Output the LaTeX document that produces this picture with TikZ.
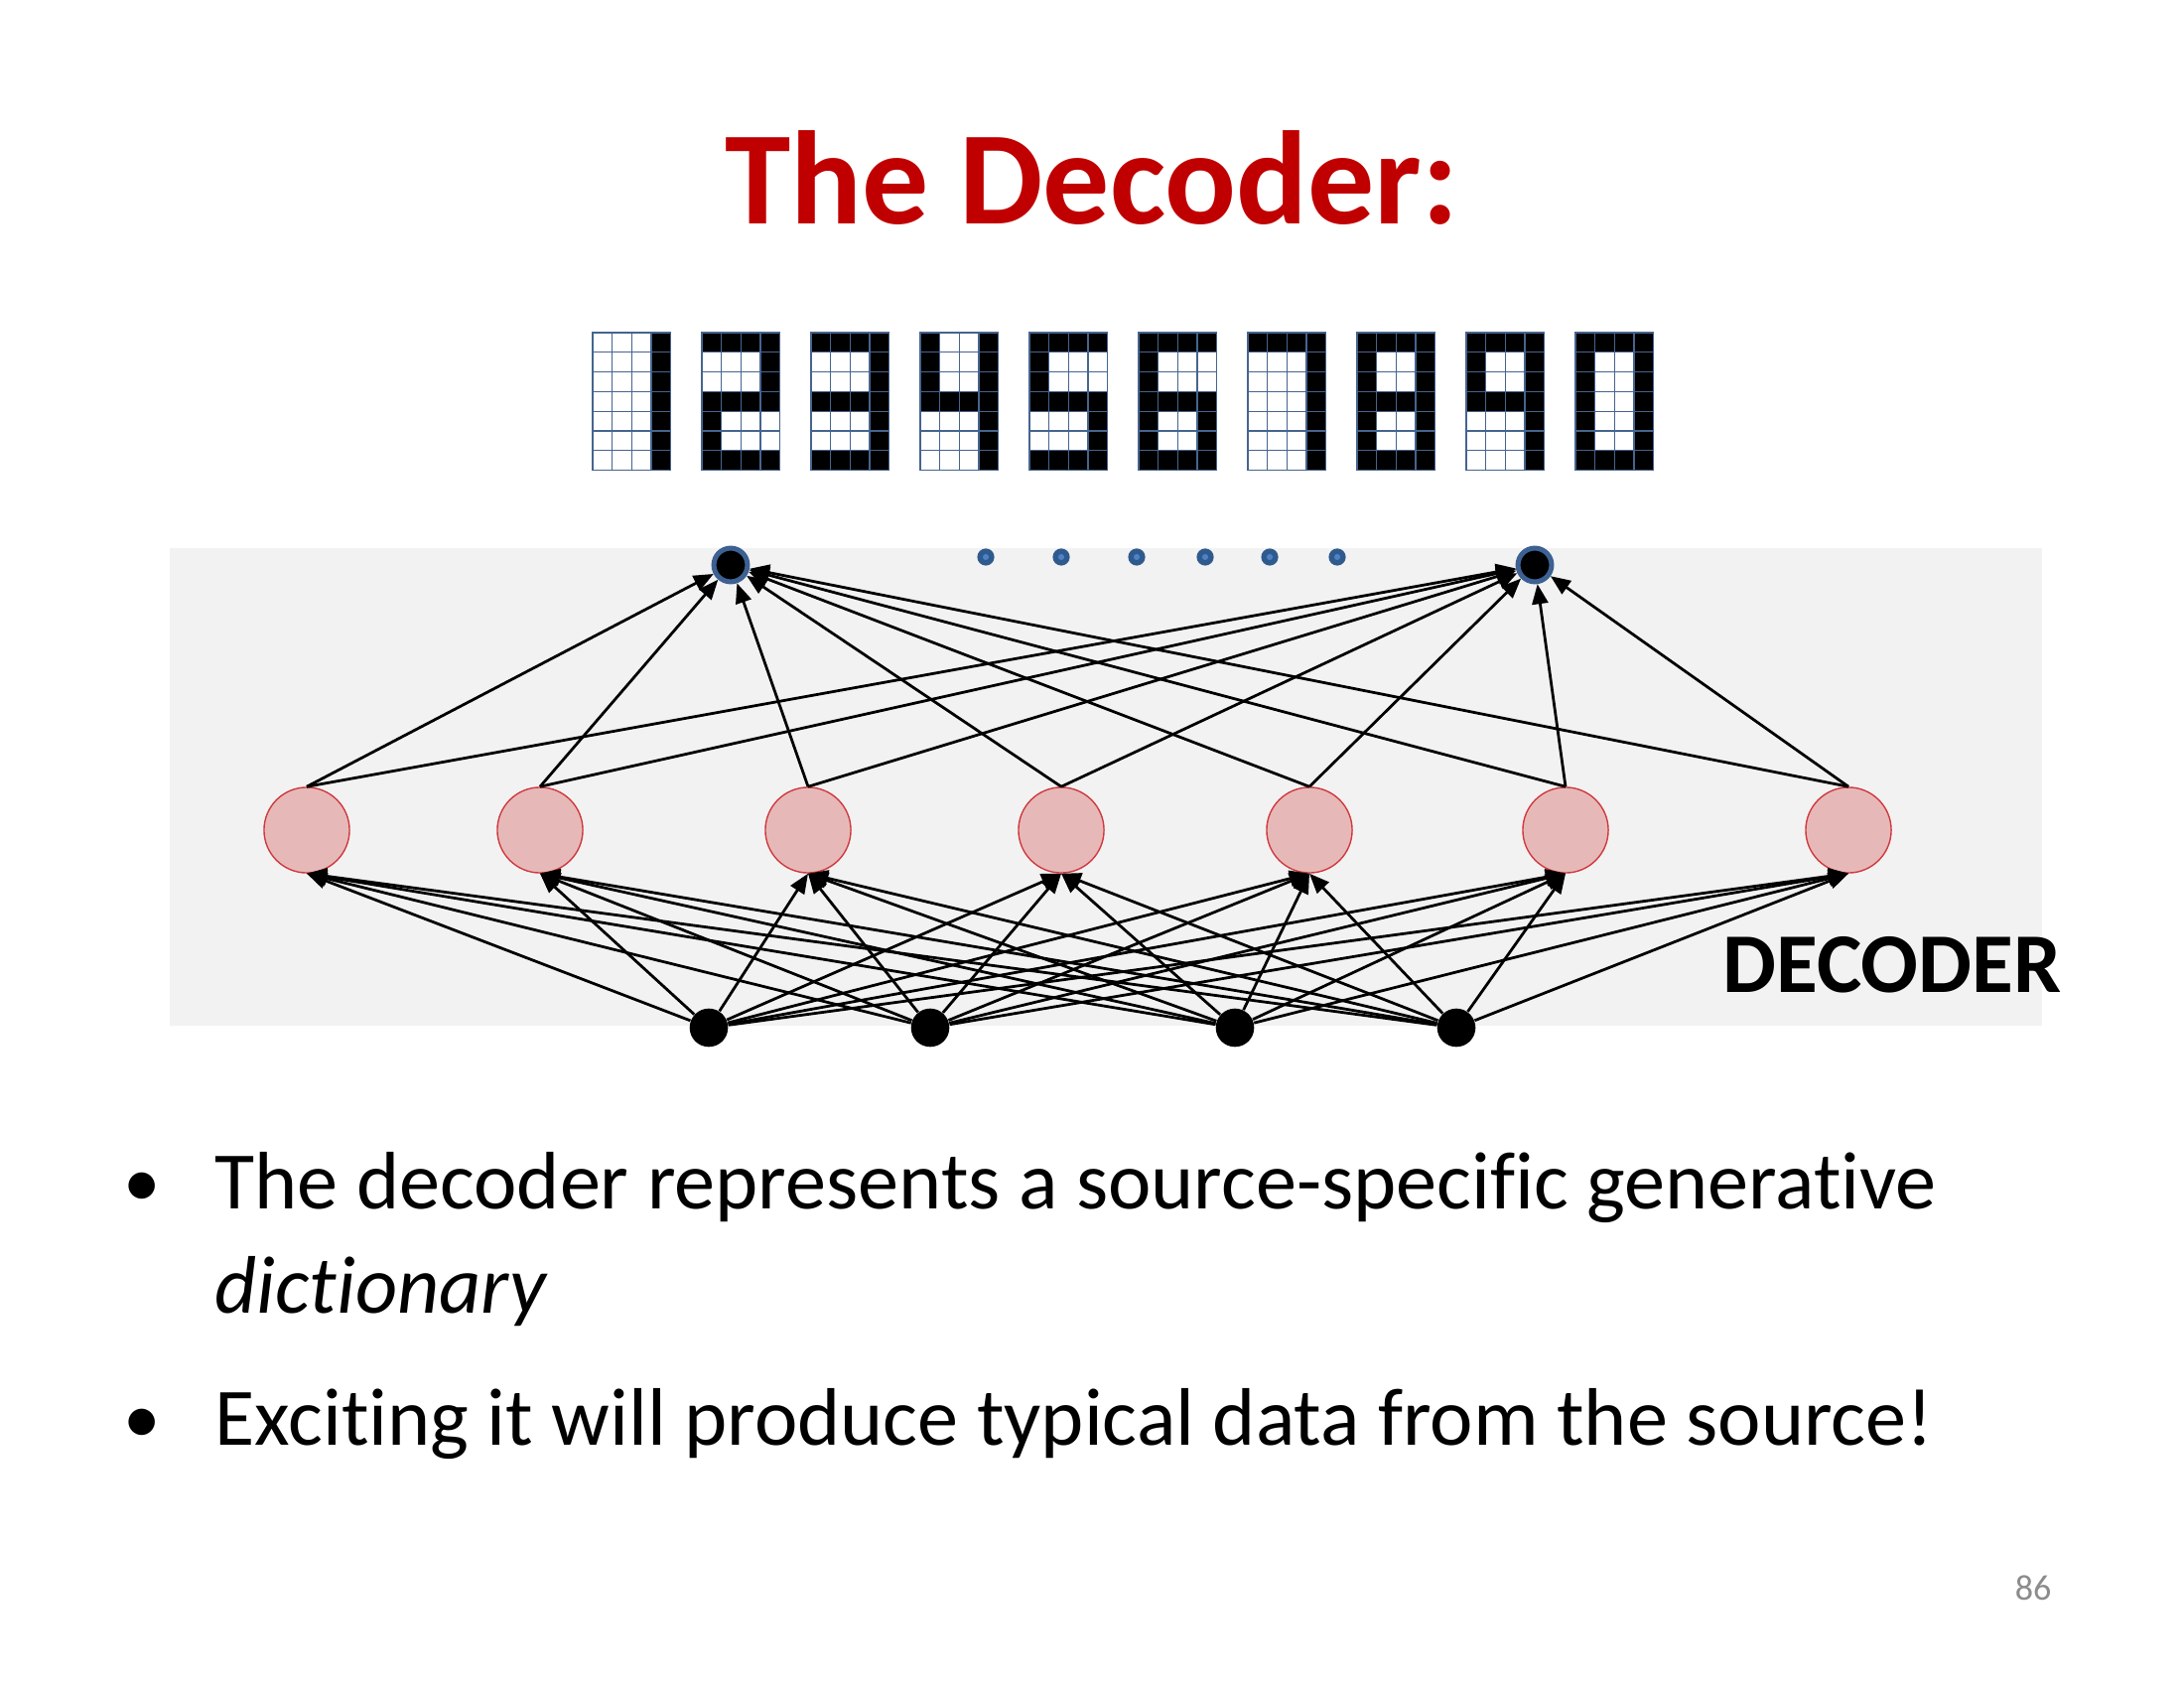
\documentclass[tikz,border=0pt]{standalone}
\usepackage{fontspec}
\setmainfont{Carlito}[Ligatures=NoCommon]
\usetikzlibrary{arrows.meta}

\definecolor{titlered}{HTML}{C00000}
\definecolor{panelgray}{HTML}{F2F2F2}
\definecolor{gridblue}{HTML}{46648F}
\definecolor{ringblue}{HTML}{3C6192}
\definecolor{dotblue}{HTML}{2F5A8E}
\definecolor{dotlight}{HTML}{4F82C4}
\definecolor{hidfill}{HTML}{E6B9B8}
\definecolor{hiddraw}{HTML}{D0393E}
\definecolor{pagegray}{HTML}{8C8C8C}

\tikzset{
  outunit/.style={circle, fill=black, draw=ringblue, line width=1.8pt, minimum size=12.2pt, inner sep=0pt},
  hidunit/.style={circle, fill=hidfill, draw=hiddraw, line width=0.5pt, minimum size=31pt, inner sep=0pt},
  inunit/.style={circle, fill=black, minimum size=13.9pt, inner sep=0pt},
  link/.style={line width=1pt, -{Triangle[length=7.2pt,width=5.8pt]}},
  bodytext/.style={anchor=base west, inner sep=0pt, font=\fontsize{29.6}{36}\selectfont},
  bulletmark/.style={anchor=base west, inner sep=0pt, font=\fontsize{27}{32}\selectfont},
  pixcell/.style={draw=gridblue, line width=0.45pt},
}

\begin{document}
\begin{tikzpicture}[x=0.36pt, y=-0.36pt]
\useasboundingbox (0,0) rectangle (2200,1700);

% title
\node[anchor=base, inner sep=0pt, text=titlered, font=\fontsize{48.2}{58}\selectfont\bfseries] (title) at (1100,226) {The Decoder:};

% pixel digits 1..9,0 : each row is a 4-bit mask, leftmost column = 8
\foreach \pat [count=\k from 0] in {
  {1,1,1,1,1,1,1},
  {15,1,1,15,8,8,15},
  {15,1,1,15,1,1,15},
  {9,9,9,15,1,1,1},
  {15,8,8,15,1,1,15},
  {15,8,8,15,9,9,15},
  {15,1,1,1,1,1,1},
  {15,9,9,15,9,9,15},
  {15,9,9,15,1,1,1},
  {15,9,9,9,9,9,15}} {
  \foreach \v [count=\r from 0] in \pat {
    \foreach \c in {0,...,3} {
      \pgfmathtruncatemacro\bit{mod(floor(\v/(2^(3-\c))),2)}
      \pgfmathsetmacro\cx{597+110*\k+19.65*\c}
      \pgfmathsetmacro\cy{335+19.8*\r}
      \ifnum\bit=1
        \path[pixcell, fill=black] (\cx,\cy) rectangle ++(19.65,19.8);
      \else
        \path[pixcell, fill=white] (\cx,\cy) rectangle ++(19.65,19.8);
      \fi
    }
  }
}

% network panel
\fill[panelgray] (171,552) rectangle (2057,1033);

% output units and the dots between them
\node[outunit] (o1) at (736,569) {};
\node[outunit] (o2) at (1546,569) {};
\foreach \x in {993,1069,1145,1214,1279,1347} {
  \fill[dotblue] (\x,561) circle (3.1pt);
  \fill[dotlight] (\x,561) circle (1.1pt);
}

% hidden units
\foreach \x [count=\i] in {309,544,814,1069,1319,1577,1862}
  \node[hidunit] (h\i) at (\x,836) {};

% input units
\foreach \x [count=\j] in {714,937,1244,1467}
  \node[inunit] (b\j) at (\x,1035) {};

% hidden -> output
\foreach \i in {1,...,7} {
  \draw[link] (h\i.north) -- (o1);
  \draw[link] (h\i.north) -- (o2);
}

% input -> hidden
\foreach \j in {1,...,4}
  \foreach \i in {1,...,7}
    \draw[link] (b\j) -- (h\i.south);

\node[anchor=base west, inner sep=0pt, font=\fontsize{30.8}{37}\selectfont\bfseries] (declabel) at (1735,999) {DECODER};

% bullet points
\node[bulletmark] (bul1) at (124,1215) {•};
\node[bodytext] (line1) at (216,1217) {The decoder represents a source-specific generative};
\node[bodytext] (line2) at (216,1322) {\textit{dictionary}};
\node[bulletmark] (bul2) at (124,1453) {•};
\node[bodytext] (line3) at (216,1455) {Exciting it will produce typical data from the source!};

% page number
\node[anchor=base east, inner sep=0pt, text=pagegray, font=\fontsize{13}{15}\selectfont] (pageno) at (2067,1611) {86};
\end{tikzpicture}
\end{document}
